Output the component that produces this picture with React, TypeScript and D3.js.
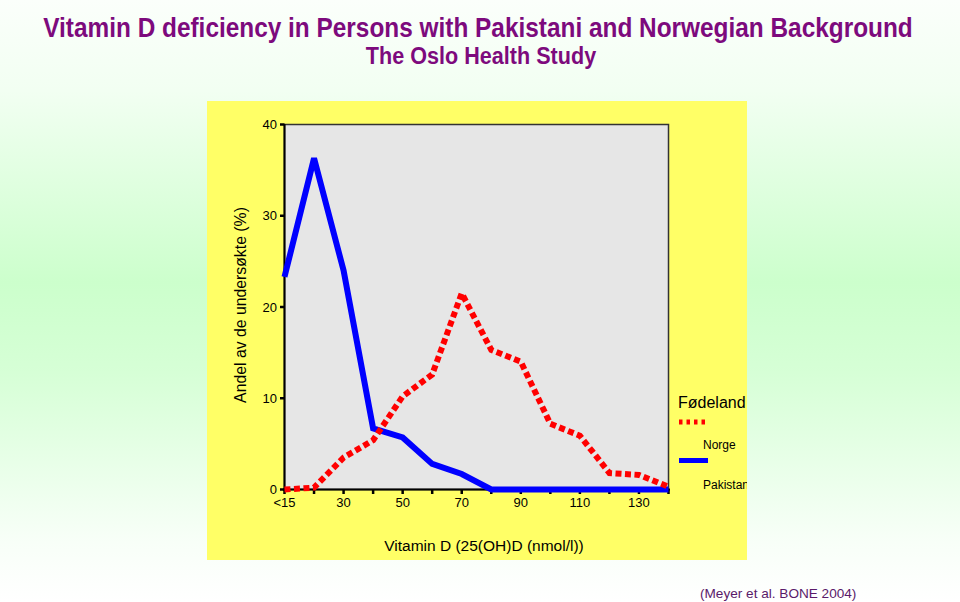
import React from "react";
import * as d3 from "d3";

const categories = ["<15", "20", "30", "40", "50", "60", "70", "80", "90", "100", "110", "120", "130", "140"];
const shownLabels = ["<15", "30", "50", "70", "90", "110", "130"];
const pakistan = [23.3, 36.3, 24.0, 6.7, 5.7, 2.8, 1.7, 0, 0, 0, 0, 0, 0, 0];
const norge = [0, 0.2, 3.5, 5.4, 10.2, 12.6, 21.5, 15.3, 14.0, 7.2, 5.9, 1.8, 1.6, 0.3];
const yTicks = [0, 10, 20, 30, 40];

const W = 960;
const H = 602;
const FONT = "'Liberation Sans', Arial, sans-serif";
const PURPLE = "#7d0a7d";

export default function App() {
  const x = d3.scalePoint<string>().domain(categories).range([284.5, 668.5]);
  const y = d3.scaleLinear().domain([0, 40]).range([489.5, 124.5]);
  const line = d3
    .line<number>()
    .x((_, i) => x(categories[i]) as number)
    .y((d) => y(d));

  return (
    <div style={{ position: "absolute", left: 0, top: 0 }}>
      <svg width={W} height={H} style={{ display: "block" }}>
        <defs>
          <linearGradient id="bg" x1="0" y1="0" x2="0" y2="1">
            <stop offset="0" stopColor="#fbfffb" />
            <stop offset="0.15" stopColor="#f2fff2" />
            <stop offset="0.47" stopColor="#ccffcc" />
            <stop offset="0.62" stopColor="#d6ffd6" />
            <stop offset="0.9" stopColor="#f8fff8" />
            <stop offset="1" stopColor="#ffffff" />
          </linearGradient>
          <clipPath id="panelClip">
            <rect x={207} y={101} width={540} height={459} />
          </clipPath>
        </defs>
        <rect x={0} y={0} width={W} height={H} fill="url(#bg)" />
        <text
          transform="translate(478,37) scale(1,1.12)"
          textAnchor="middle"
          fontFamily={FONT}
          fontWeight="bold"
          fontSize={24.4}
          fill={PURPLE}
        >
          Vitamin D deficiency in Persons with Pakistani and Norwegian Background
        </text>
        <text
          transform="translate(481,64) scale(1,1.12)"
          textAnchor="middle"
          fontFamily={FONT}
          fontWeight="bold"
          fontSize={21.6}
          fill={PURPLE}
        >
          The Oslo Health Study
        </text>

        <rect x={207} y={101} width={540} height={459} fill="#ffff66" />
        <g clipPath="url(#panelClip)">
          <rect x={284.5} y={124.5} width={384} height={365} fill="#e6e6e6" stroke="#333" strokeWidth={1.5} />
          {yTicks.map((t) => (
            <g key={t}>
              <line x1={280} x2={284.5} y1={y(t)} y2={y(t)} stroke="#000" strokeWidth={2.5} />
              <text x={277} y={y(t) + 4.5} textAnchor="end" fontFamily={FONT} fontSize={13} fill="#000">
                {t}
              </text>
            </g>
          ))}
          {categories.map((c) => (
            <line key={c} x1={x(c)} x2={x(c)} y1={489.5} y2={494} stroke="#000" strokeWidth={2.5} />
          ))}
          <line x1={283} x2={670} y1={489.5} y2={489.5} stroke="#000" strokeWidth={2} />
          <line x1={284.5} x2={284.5} y1={124} y2={491} stroke="#000" strokeWidth={2} />
          {shownLabels.map((c) => (
            <text key={c} x={x(c)} y={507} textAnchor="middle" fontFamily={FONT} fontSize={13} fill="#000">
              {c}
            </text>
          ))}
          <path d={line(pakistan) || ""} fill="none" stroke="#0000ff" strokeWidth={6} strokeLinejoin="miter" />
          <path
            d={line(norge) || ""}
            fill="none"
            stroke="#ff0000"
            strokeWidth={6}
            strokeDasharray="6 3.5"
            strokeLinejoin="miter"
          />
          <text
            transform={`translate(246,305) rotate(-90)`}
            textAnchor="middle"
            fontFamily={FONT}
            fontSize={15.8}
            fill="#000"
          >
            Andel av de undersøkte (%)
          </text>
          <text x={484} y={551} textAnchor="middle" fontFamily={FONT} fontSize={15.5} fill="#000">
            Vitamin D (25(OH)D (nmol/l))
          </text>
          <text x={678} y={408} fontFamily={FONT} fontSize={16} fill="#000">
            Fødeland
          </text>
          <line x1={679} x2={708} y1={422} y2={422} stroke="#ff0000" strokeWidth={5} strokeDasharray="3.5 4" />
          <text x={703} y={449} fontFamily={FONT} fontSize={12} fill="#000">
            Norge
          </text>
          <line x1={679} x2={708} y1={460.5} y2={460.5} stroke="#0000ff" strokeWidth={5} />
          <text x={703} y={489} fontFamily={FONT} fontSize={12} fill="#000">
            Pakistan
          </text>
        </g>
        <text x={700} y={598} fontFamily={FONT} fontSize={13.6} fill="#5a1a6a">
          (Meyer et al. BONE 2004)
        </text>
      </svg>
    </div>
  );
}
